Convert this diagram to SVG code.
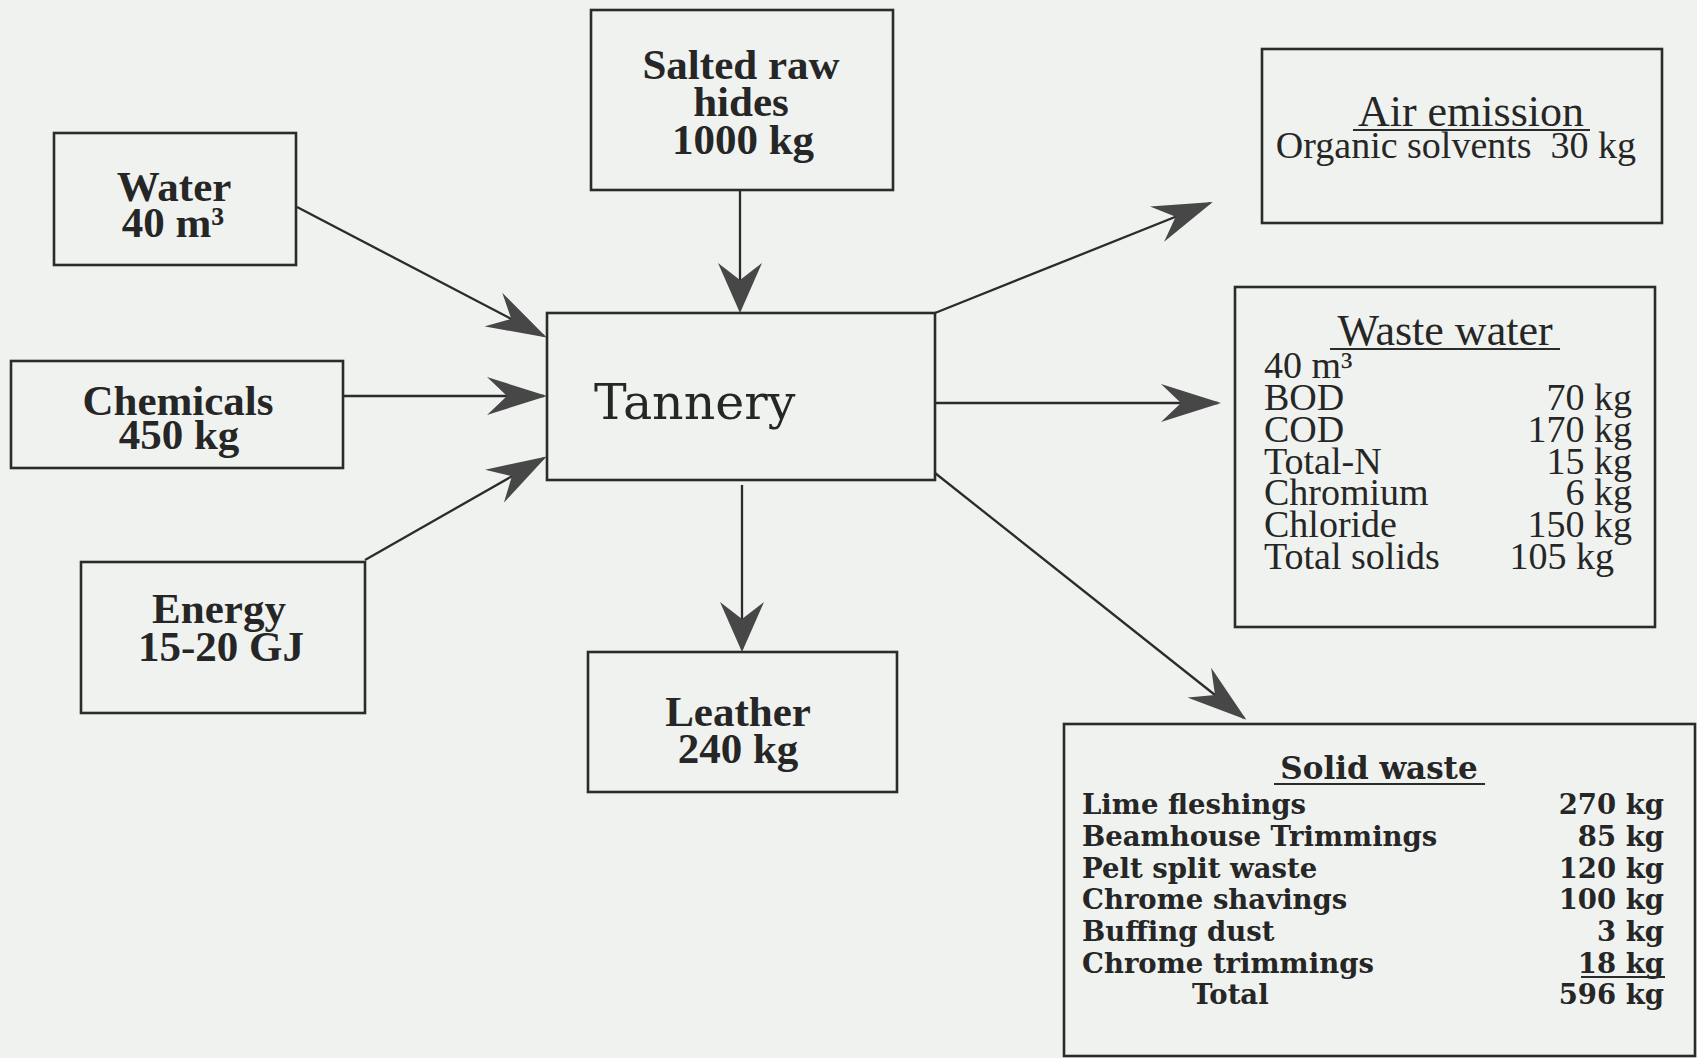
<svg xmlns="http://www.w3.org/2000/svg" width="1697" height="1058" viewBox="0 0 1697 1058">
  <style>
    .box { fill: none; stroke: #2b2b2b; stroke-width: 2.6; }
    .link { fill: none; stroke: #2b2b2b; stroke-width: 2.3; }
    .rule { stroke: #2b2b2b; stroke-width: 2; }
    .lbl { font-family: "Liberation Serif", "Times New Roman", serif; font-weight: bold; font-size: 43px; fill: #262626; text-anchor: middle; }
    .hub { font-family: "DejaVu Serif", "Liberation Serif", serif; font-size: 49px; fill: #262626; }
    .out { font-family: "Liberation Serif", "Times New Roman", serif; font-size: 38px; fill: #262626; }
    .outT { font-family: "Liberation Serif", "Times New Roman", serif; font-size: 44px; fill: #262626; text-anchor: middle; }
    .sw { font-family: "DejaVu Serif", "Liberation Serif", serif; font-weight: bold; font-size: 27.5px; fill: #262626; }
    .swT { font-family: "DejaVu Serif", "Liberation Serif", serif; font-weight: bold; font-size: 31px; fill: #262626; text-anchor: middle; }
    .r { text-anchor: end; }
    .pre { white-space: pre; }
  </style>
  <defs>
    <marker id="head" markerUnits="userSpaceOnUse" viewBox="0 0 60 38" refX="57" refY="19" markerWidth="60" markerHeight="38" orient="auto">
      <path d="M0,0 L60,19 L0,38 L20,19 Z" fill="#474747"/>
    </marker>
    <marker id="head-short" markerUnits="userSpaceOnUse" viewBox="0 0 50 44" refX="47" refY="22" markerWidth="50" markerHeight="44" orient="auto">
      <path d="M0,0 L50,22 L0,44 L17,22 Z" fill="#474747"/>
    </marker>
  </defs>

  <rect width="1697" height="1058" fill="#eff2ef"/>

  <!-- flows into and out of the tannery -->
  <g id="connectors">
    <line class="link" x1="740" y1="190" x2="740" y2="310" marker-end="url(#head-short)"/>
    <line class="link" x1="297" y1="207" x2="544" y2="336" marker-end="url(#head)"/>
    <line class="link" x1="343" y1="396" x2="544" y2="396" marker-end="url(#head)"/>
    <line class="link" x1="365" y1="560" x2="544" y2="458" marker-end="url(#head)"/>
    <line class="link" x1="742" y1="485" x2="742" y2="649" marker-end="url(#head-short)"/>
    <line class="link" x1="935" y1="313" x2="1210" y2="203" marker-end="url(#head)"/>
    <line class="link" x1="936" y1="403" x2="1218" y2="403" marker-end="url(#head)"/>
    <line class="link" x1="935" y1="473" x2="1244" y2="718" marker-end="url(#head)"/>
  </g>

  <g id="salted-hides">
    <rect class="box" x="591" y="10" width="302" height="180"/>
    <text class="lbl" x="741" y="79">Salted raw</text>
    <text class="lbl" x="741" y="116">hides</text>
    <text class="lbl" x="743" y="154">1000 kg</text>
  </g>

  <g id="water">
    <rect class="box" x="54" y="133" width="242" height="132"/>
    <text class="lbl" x="174" y="201">Water</text>
    <text class="lbl" x="173" y="237">40 m³</text>
  </g>

  <g id="chemicals">
    <rect class="box" x="11" y="361" width="332" height="107"/>
    <text class="lbl" x="178" y="415">Chemicals</text>
    <text class="lbl" x="179" y="449">450 kg</text>
  </g>

  <g id="energy">
    <rect class="box" x="81" y="562" width="284" height="151"/>
    <text class="lbl" x="219" y="623">Energy</text>
    <text class="lbl" x="221" y="661">15-20 GJ</text>
  </g>

  <g id="tannery">
    <rect class="box" x="547" y="313" width="388" height="167"/>
    <text class="hub" x="594" y="419">Tannery</text>
  </g>

  <g id="leather">
    <rect class="box" x="588" y="652" width="309" height="140"/>
    <text class="lbl" x="738" y="726">Leather</text>
    <text class="lbl" x="738" y="763">240 kg</text>
  </g>

  <g id="air-emission">
    <rect class="box" x="1262" y="49" width="400" height="174"/>
    <text class="outT" x="1471" y="126">Air emission</text>
    <line class="rule" x1="1353" y1="130" x2="1590" y2="130"/>
    <text class="out pre" x="1456" y="158" text-anchor="middle" xml:space="preserve">Organic solvents  30 kg</text>
  </g>

  <g id="waste-water">
    <rect class="box" x="1235" y="287" width="420" height="340"/>
    <text class="outT" x="1445" y="345">Waste water</text>
    <line class="rule" x1="1330" y1="349" x2="1560" y2="349"/>
    <text class="out" x="1264" y="378">40 m³</text>
    <text class="out" x="1264" y="410">BOD</text>
    <text class="out r" x="1632" y="410">70 kg</text>
    <text class="out" x="1264" y="442">COD</text>
    <text class="out r" x="1632" y="442">170 kg</text>
    <text class="out" x="1264" y="474">Total-N</text>
    <text class="out r" x="1632" y="474">15 kg</text>
    <text class="out" x="1264" y="505">Chromium</text>
    <text class="out r" x="1632" y="505">6 kg</text>
    <text class="out" x="1264" y="537">Chloride</text>
    <text class="out r" x="1632" y="537">150 kg</text>
    <text class="out" x="1264" y="569">Total solids</text>
    <text class="out r" x="1614" y="569">105 kg</text>
  </g>

  <g id="solid-waste">
    <rect class="box" x="1064" y="724" width="631" height="332"/>
    <text class="swT" x="1379" y="779">Solid waste</text>
    <line class="rule" x1="1274" y1="784" x2="1485" y2="784"/>
    <text class="sw" x="1082" y="814">Lime fleshings</text>
    <text class="sw r" x="1664" y="814">270 kg</text>
    <text class="sw" x="1082" y="846">Beamhouse Trimmings</text>
    <text class="sw r" x="1664" y="846">85 kg</text>
    <text class="sw" x="1082" y="878">Pelt split waste</text>
    <text class="sw r" x="1664" y="878">120 kg</text>
    <text class="sw" x="1082" y="909">Chrome shavings</text>
    <text class="sw r" x="1664" y="909">100 kg</text>
    <text class="sw" x="1082" y="941">Buffing dust</text>
    <text class="sw r" x="1664" y="941">3 kg</text>
    <text class="sw" x="1082" y="973">Chrome trimmings</text>
    <text class="sw r" x="1664" y="973">18 kg</text>
    <line class="rule" x1="1581" y1="977" x2="1665" y2="977"/>
    <text class="sw" x="1192" y="1004">Total</text>
    <text class="sw r" x="1664" y="1004">596 kg</text>
  </g>
</svg>
